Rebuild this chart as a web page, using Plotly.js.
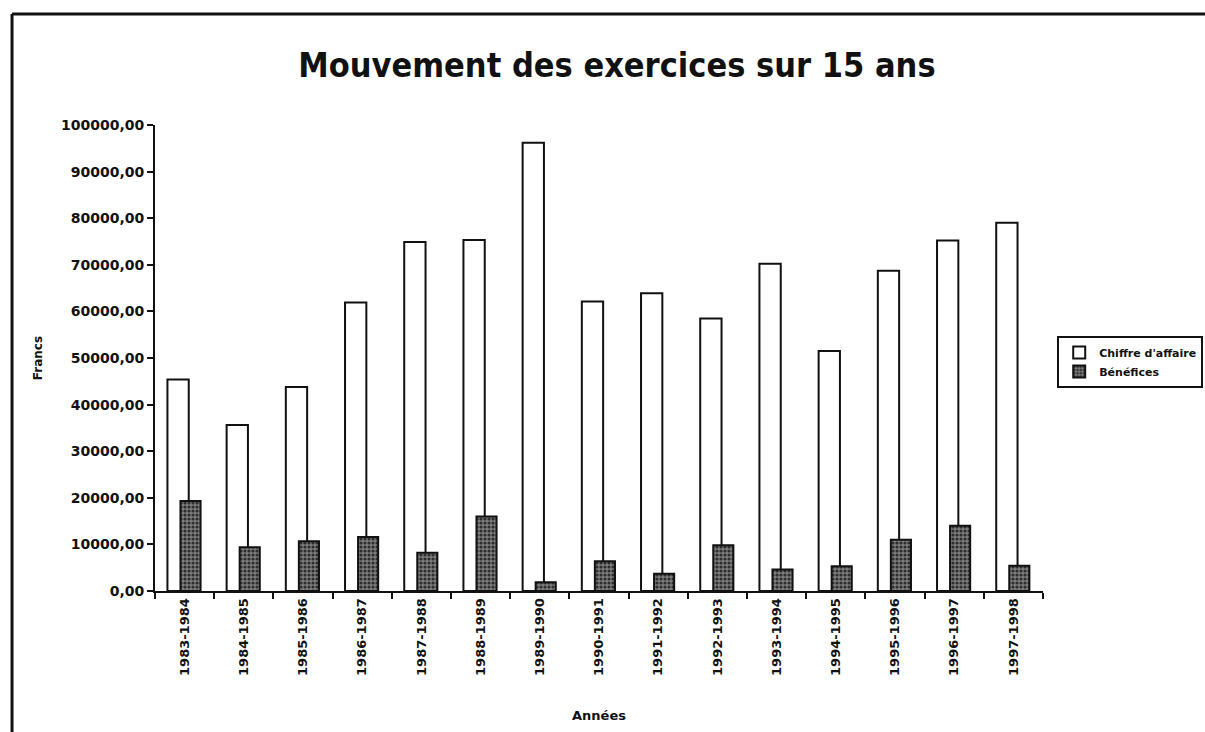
<!DOCTYPE html>
<html>
<head>
<meta charset="utf-8">
<script src="https://cdn.plot.ly/plotly-3.0.1.min.js"></script>
<style>html,body{margin:0;padding:0;background:#fff;}#chart{width:1205px;height:732px;}</style>
</head>
<body>
<div id="chart"></div>
<script>
const years = ["1983-1984","1984-1985","1985-1986","1986-1987","1987-1988","1988-1989","1989-1990","1990-1991","1991-1992","1992-1993","1993-1994","1994-1995","1995-1996","1996-1997","1997-1998"];
const chiffreAffaire = [45400, 35600, 43800, 61900, 74900, 75300, 96200, 62100, 63900, 58500, 70200, 51500, 68700, 75200, 79000];
const benefices = [19300, 9400, 10700, 11600, 8200, 16000, 1900, 6400, 3700, 9800, 4600, 5300, 11000, 14000, 5400];
const yTicks = [0, 10000, 20000, 30000, 40000, 50000, 60000, 70000, 80000, 90000, 100000];

const bold = {family: "DejaVu Sans", weight: "bold", color: "#111"};

const traces = [
  {
    type: "bar", name: "Chiffre d'affaire", x: years, y: chiffreAffaire,
    width: 0.36, offset: -0.29,
    marker: {color: "#ffffff", line: {color: "#111", width: 2}},
    hoverinfo: "x+y"
  },
  {
    type: "bar", name: "Bénéfices", x: years, y: benefices,
    width: 0.34, offset: -0.07,
    marker: {color: "#6a6a6a", line: {color: "#111", width: 2},
      pattern: {shape: ".", fgcolor: "#2e2e2e", bgcolor: "#7e7e7e", size: 4, solidity: 0.5}},
    hoverinfo: "x+y"
  }
];

const layout = {
  width: 1205, height: 732,
  margin: {l: 155, r: 162, t: 125, b: 141, autoexpand: false},
  paper_bgcolor: "#ffffff", plot_bgcolor: "#ffffff",
  barmode: "overlay",
  showlegend: true,
  title: {
    text: "Mouvement des exercices sur 15 ans",
    font: {family: "DejaVu Sans Condensed", weight: "bold", size: 34, color: "#111"},
    xref: "container", x: 0.512, xanchor: "center",
    yref: "container", y: 0.911, yanchor: "middle"
  },
  xaxis: {
    type: "category",
    categoryorder: "array", categoryarray: years,
    tickangle: -90,
    tickfont: Object.assign({size: 13}, bold),
    ticks: "outside", ticklen: 6, tickwidth: 2, tickcolor: "#111",
    tickson: "boundaries",
    showline: true, linecolor: "#111", linewidth: 2,
    showgrid: false, zeroline: false,
    title: {text: "Années", font: Object.assign({size: 13}, bold), standoff: 36}
  },
  yaxis: {
    range: [0, 100000],
    tickvals: yTicks,
    tickformat: ".2f",
    tickfont: Object.assign({size: 14}, bold),
    ticks: "outside", ticklen: 6, tickwidth: 2, tickcolor: "#111",
    showline: true, linecolor: "#111", linewidth: 2,
    showgrid: false, zeroline: false,
    title: {text: "Francs", font: Object.assign({size: 12}, bold), standoff: 16}
  },
  separators: ", ",
  legend: {
    x: 1.016, xanchor: "left", y: 0.547, yanchor: "top",
    bgcolor: "#ffffff", bordercolor: "#111", borderwidth: 2,
    font: Object.assign({size: 11}, bold),
    itemwidth: 30, tracegroupgap: 0
  },
  shapes: [
    {type: "line", xref: "paper", yref: "paper", x0: -0.161, x1: -0.161, y0: -0.35, y1: 1.238, line: {color: "#111", width: 3}},
    {type: "line", xref: "paper", yref: "paper", x0: -0.161, x1: 1.25, y0: 1.238, y1: 1.238, line: {color: "#111", width: 3}}
  ]
};

Plotly.newPlot("chart", traces, layout, {displayModeBar: false, responsive: false});
</script>
</body>
</html>
